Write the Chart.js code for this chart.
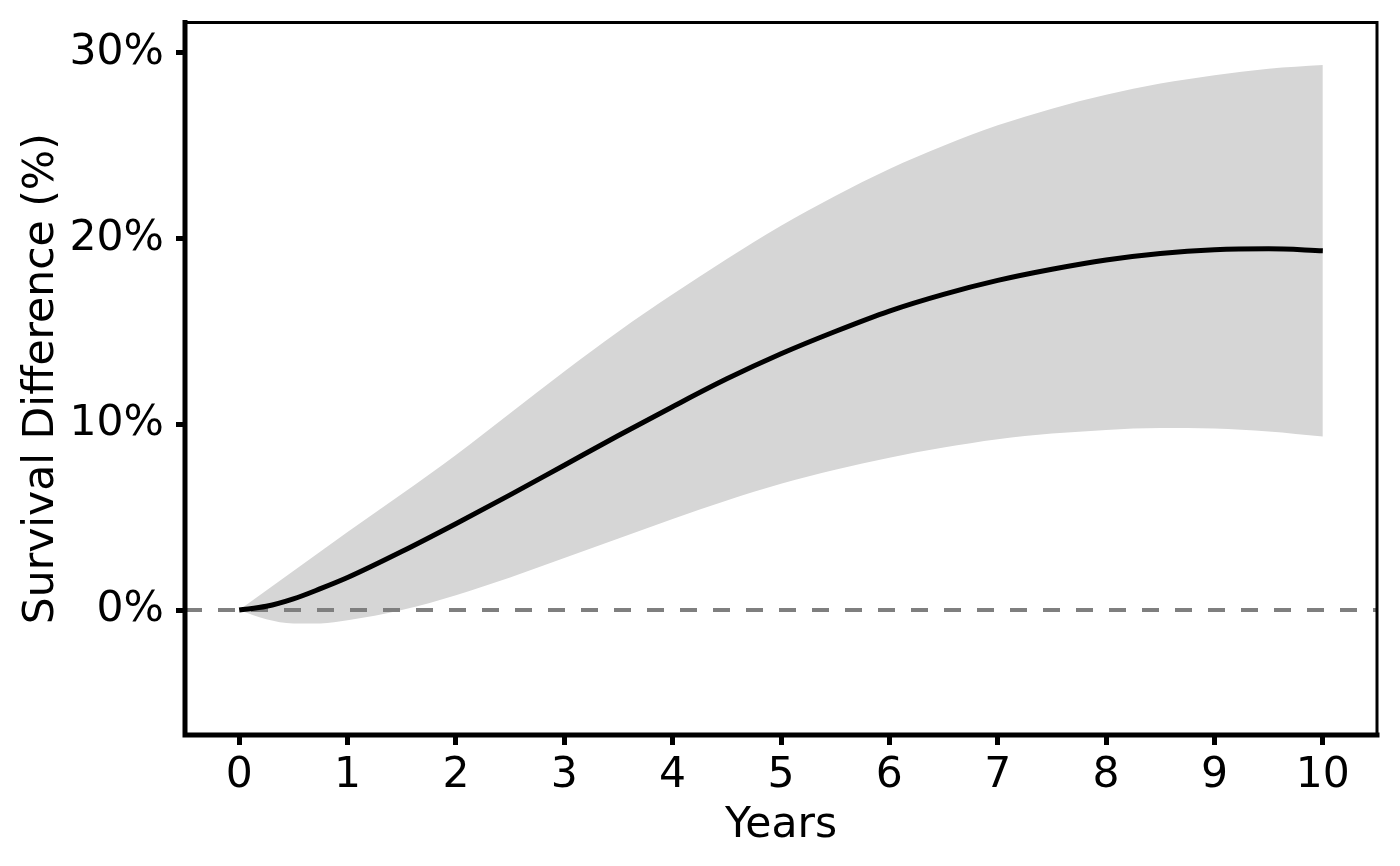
<!DOCTYPE html>
<html>
<head>
<meta charset="utf-8">
<script src="https://cdn.jsdelivr.net/npm/chart.js@4"></script>
<style>
  html, body { margin: 0; padding: 0; background: #fff; }
  #wrap { width: 1400px; height: 866px; }
</style>
</head>
<body>
<div id="wrap"><canvas id="myChart" width="1400" height="866"></canvas></div>
<script>
// years since start
var years     = [0, 0.25, 0.5, 0.75, 1, 1.5, 2, 2.5, 3, 3.5, 4, 4.5, 5, 5.5, 6, 6.5, 7, 7.5, 8, 8.5, 9, 9.5, 10];
// survival difference (%), point estimate
var diffMean  = [0, 0.2, 0.6, 1.15, 1.75, 3.15, 4.65, 6.2, 7.8, 9.4, 10.95, 12.45, 13.8, 15.0, 16.1, 17.0, 17.75, 18.35, 18.85, 19.2, 19.4, 19.45, 19.35];
// confidence band
var diffUpper = [0, 1.05, 2.1, 3.15, 4.2, 6.25, 8.35, 10.6, 12.85, 15.0, 17.0, 18.9, 20.7, 22.3, 23.75, 25.0, 26.1, 27.0, 27.75, 28.35, 28.8, 29.15, 29.35];
var diffLower = [0, -0.5, -0.72, -0.72, -0.55, 0.0, 0.8, 1.75, 2.8, 3.85, 4.9, 5.9, 6.8, 7.55, 8.2, 8.75, 9.2, 9.5, 9.7, 9.8, 9.78, 9.62, 9.35];
var xTicks = [0, 1, 2, 3, 4, 5, 6, 7, 8, 9, 10];
var yTicks = [0, 10, 20, 30];

function toPoints(ys) {
    var out = [];
    for (var i = 0; i < years.length; i++) {
        out.push({ x: years[i], y: ys[i] });
    }
    return out;
}

var fontFam = "'DejaVu Sans', sans-serif";

// box round the panel: left/bottom thick, top/right thin
var panelBox = {
    id: 'panelBox',
    afterDraw: function (chart) {
        var a = chart.chartArea;
        var c = chart.ctx;
        c.save();
        c.strokeStyle = '#000';
        c.lineCap = 'square';
        c.lineWidth = 3;
        c.beginPath();
        c.moveTo(a.left, a.top);
        c.lineTo(a.right, a.top);
        c.lineTo(a.right, a.bottom);
        c.stroke();
        c.lineWidth = 5;
        c.beginPath();
        c.moveTo(a.left, a.top);
        c.lineTo(a.left, a.bottom);
        c.lineTo(a.right, a.bottom);
        c.stroke();
        c.restore();
    }
};

var ctx = document.getElementById('myChart').getContext('2d');
var chart = new Chart(ctx, {
    type: 'line',
    data: {
        datasets: [{
            label: 'Difference',
            data: toPoints(diffMean),
            borderColor: '#000',
            borderWidth: 5,
            pointRadius: 0,
            cubicInterpolationMode: 'monotone',
            fill: false,
            order: 0
        }, {
            label: 'Zero',
            data: [{ x: -0.5, y: 0 }, { x: 10.5, y: 0 }],
            borderColor: '#7f7f7f',
            borderWidth: 4,
            borderDash: [17, 16],
            pointRadius: 0,
            fill: false,
            order: 1
        }, {
            label: 'Upper',
            data: toPoints(diffUpper),
            borderWidth: 0,
            borderColor: 'rgba(0,0,0,0)',
            backgroundColor: '#d6d6d6',
            pointRadius: 0,
            cubicInterpolationMode: 'monotone',
            fill: '+1',
            order: 2
        }, {
            label: 'Lower',
            data: toPoints(diffLower),
            borderWidth: 0,
            borderColor: 'rgba(0,0,0,0)',
            pointRadius: 0,
            cubicInterpolationMode: 'monotone',
            fill: false,
            order: 3
        }]
    },
    options: {
        responsive: false,
        animation: false,
        devicePixelRatio: 1,
        layout: { padding: { top: 22.5, right: 23, left: 0, bottom: 0 } },
        plugins: {
            legend: { display: false },
            tooltip: { enabled: false },
            filler: { drawTime: 'beforeDatasetsDraw' }
        },
        scales: {
            x: {
                type: 'linear',
                min: -0.5,
                max: 10.5,
                afterBuildTicks: function (s) {
                    s.ticks = xTicks.map(function (v) { return { value: v }; });
                },
                afterFit: function (s) {
                    s.height = 131;
                    s.paddingLeft = 0;
                    s.paddingRight = 0;
                },
                ticks: {
                    font: { family: fontFam, size: 42.5 },
                    color: '#000',
                    padding: 5,
                    maxRotation: 0,
                    autoSkip: false
                },
                grid: { drawOnChartArea: false, tickLength: 10, tickWidth: 5, tickColor: '#000' },
                border: { display: false },
                title: {
                    display: true,
                    text: 'Years',
                    font: { family: fontFam, size: 42.5 },
                    color: '#000',
                    padding: { top: 0, bottom: 15 }
                }
            },
            y: {
                type: 'linear',
                min: -6.73,
                max: 31.64,
                afterBuildTicks: function (s) {
                    s.ticks = yTicks.map(function (v) { return { value: v }; });
                },
                afterFit: function (s) {
                    s.width = 185;
                    s.paddingTop = 0;
                    s.paddingBottom = 0;
                },
                ticks: {
                    font: { family: fontFam, size: 42.5 },
                    color: '#000',
                    padding: 12,
                    callback: function (v) { return v + '%'; }
                },
                grid: { drawOnChartArea: false, tickLength: 9, tickWidth: 5, tickColor: '#000' },
                border: { display: false },
                title: {
                    display: true,
                    text: 'Survival Difference (%)',
                    font: { family: fontFam, size: 42.5 },
                    color: '#000',
                    padding: { top: 16, bottom: 0 }
                }
            }
        }
    },
    plugins: [panelBox]
});
</script>
</body>
</html>
